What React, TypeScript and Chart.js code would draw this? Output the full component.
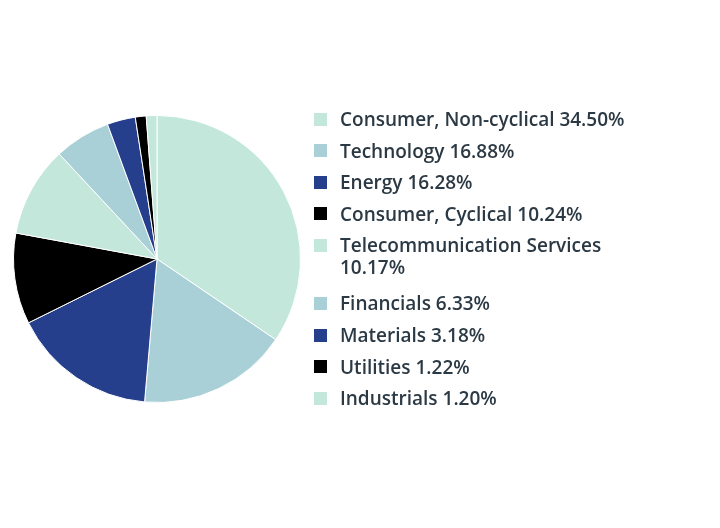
import React, { useEffect, useRef } from "react";
import { Chart, registerables } from "chart.js";

Chart.register(...registerables);

const categories = [
  "Consumer, Non-cyclical",
  "Technology",
  "Energy",
  "Consumer, Cyclical",
  "Telecommunication Services",
  "Financials",
  "Materials",
  "Utilities",
  "Industrials",
];
const values = [34.5, 16.88, 16.28, 10.24, 10.17, 6.33, 3.18, 1.22, 1.2];
const colors = [
  "#c3e7da",
  "#a8d0d6",
  "#253f8c",
  "#000000",
  "#c3e7da",
  "#a8d0d6",
  "#253f8c",
  "#000000",
  "#c3e7da",
];

const FONT = '600 19px "Open Sans", sans-serif';
const TEXT_COLOR = "#2b3944";

const legendPlugin = {
  id: "customLegend",
  afterDraw(chart: any) {
    const ctx = chart.ctx as CanvasRenderingContext2D;
    ctx.save();
    ctx.font = FONT;
    ctx.textBaseline = "middle";
    ctx.textAlign = "left";
    const boxX = 314;
    const textX = 340;
    const maxW = 292;
    let y = 119.5;
    const labels: string[] = chart.data.labels;
    const data: number[] = chart.data.datasets[0].data;
    const bg: string[] = chart.data.datasets[0].backgroundColor;
    labels.forEach((lab, i) => {
      const full = `${lab} ${data[i].toFixed(2)}%`;
      const words = full.split(" ");
      const lines: string[] = [];
      let cur = "";
      words.forEach((w) => {
        const test = cur ? cur + " " + w : w;
        if (ctx.measureText(test).width > maxW && cur) {
          lines.push(cur);
          cur = w;
        } else cur = test;
      });
      if (cur) lines.push(cur);
      ctx.fillStyle = bg[i];
      ctx.fillRect(boxX, Math.round(y - 7), 13, 13);
      ctx.fillStyle = TEXT_COLOR;
      lines.forEach((ln, j) => ctx.fillText(ln, textX, y + 1 + j * 22));
      y += 31.6 + (lines.length - 1) * 26.5;
    });
    ctx.restore();
  },
};

export default function App() {
  const ref = useRef<HTMLCanvasElement>(null);
  useEffect(() => {
    if (!ref.current) return;
    const chart = new Chart(ref.current, {
      type: "pie",
      data: {
        labels: categories,
        datasets: [
          {
            data: values,
            backgroundColor: colors,
            borderColor: "#ffffff",
            borderWidth: 1,
          },
        ],
      },
      options: {
        animation: false,
        responsive: false,
        layout: { padding: { left: 13, right: 419, top: 115, bottom: 125 } },
        plugins: {
          legend: { display: false },
          tooltip: { enabled: false },
        },
      },
      plugins: [legendPlugin],
    });
    return () => chart.destroy();
  }, []);
  return (
    <div style={{ position: "fixed", left: 0, top: 0, width: 720, height: 528, background: "#fff" }}>
      <canvas ref={ref} width={720} height={528} />
    </div>
  );
}
